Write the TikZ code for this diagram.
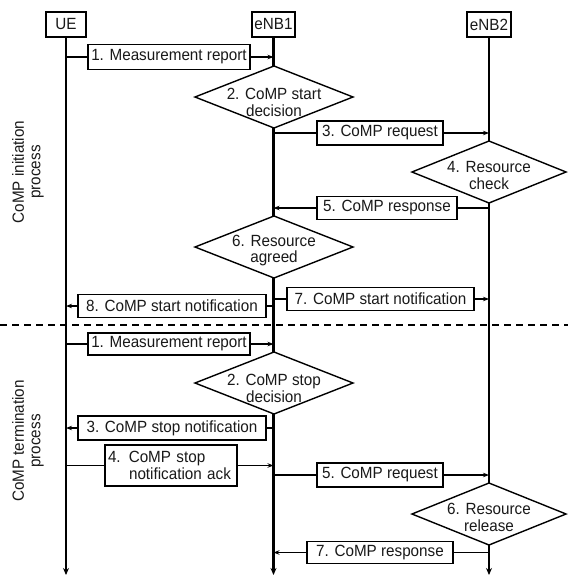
\documentclass[tikz,border=0pt]{standalone}
\usepackage{fontspec}
\setmainfont[FakeStretch=0.94]{Liberation Sans}
\usetikzlibrary{arrows.meta}
\begin{document}
\begin{tikzpicture}[x=1pt,y=-1pt,
  every node/.style={font=\fontsize{16.2}{16.5}\selectfont, text=black!90},
  head/.style={draw, line width=1.3pt, fill=white, minimum height=25pt, inner sep=0pt},
  life/.style={line width=2.2pt, -{Stealth[length=7pt,width=6pt]}},
  msg/.style={line width=1.2pt},
  msgarrow/.style={line width=1.2pt, -{Stealth[length=6pt,width=4.5pt]}},
  msgbox/.style={draw, line width=1.3pt, fill=white, inner sep=0pt, align=center},
  dia/.style={draw, line width=1.4pt, fill=white, line join=miter},
  dtext/.style={align=center, inner sep=0pt},
  side/.style={rotate=90, align=center, inner sep=0pt},
  sep/.style={line width=1.2pt, dash pattern=on 7pt off 5pt}
]
\useasboundingbox (0,0) rectangle (568,576);

% entities
\node[head, minimum width=40pt] (ue)   at (66,24.5)    {UE};
\node[head, minimum width=43pt] (enbA) at (273.5,24.5) {eNB1};
\node[head, minimum width=44pt] (enbB) at (489,24.5)   {eNB2};

% lifelines
\coordinate (end) at (0,575);
\draw[life] (ue.south)   -- (ue |- end);
\draw[life] (enbA.south) -- (enbA |- end);
\draw[life] (enbB.south) -- (enbB |- end);

% phase separator
\coordinate (sepL) at (0,325);
\coordinate (sepR) at (568,325);
\draw[sep] (sepL) -- (sepR);

% phase labels
\node[side] (initlbl) at (28,172) {CoMP initiation\\process};
\node[side] (termlbl) at (28,441) {CoMP termination\\process};

% decision diamonds
\foreach \cx/\cy/\hw in {274/97/79, 489/172/77, 274/247/79, 274/383/79, 489/514/77}{
  \draw[dia] (\cx,\cy) ++(-\hw,0) -- ++(\hw,-31) -- ++(\hw,31) -- ++(-\hw,31) -- cycle;
}
\node[dtext] (ia2) at (274,102.5) {2. CoMP start\\decision};
\node[dtext] (ia4) at (489,175.5) {4. Resource\\check};
\node[dtext] (ia6) at (274,250.5) {6. Resource\\agreed};
\node[dtext] (tb2) at (274,388.5) {2. CoMP stop\\decision};
\node[dtext] (tb6) at (489,517.5) {6. Resource\\release};

% ---- CoMP initiation process ----
\node[msgbox, minimum width=162pt, minimum height=25pt] (i1) at (169,57)    {1. Measurement report};
\draw[msg]      (i1 -| ue) -- (i1.west);
\draw[msgarrow] (i1.east) -- (i1 -| enbA);

\node[msgbox, minimum width=126pt, minimum height=24pt] (i3) at (380,133)   {3. CoMP request};
\draw[msg]      (i3 -| enbA) -- (i3.west);
\draw[msgarrow] (i3.east) -- (i3 -| enbB);

\node[msgbox, minimum width=140pt, minimum height=23pt] (i5) at (387,208)   {5. CoMP response};
\draw[msg]      (i5 -| enbB) -- (i5.east);
\draw[msgarrow] (i5.west) -- (i5 -| enbA);

\node[msgbox, minimum width=187pt, minimum height=23pt] (i7) at (380.5,299) {7. CoMP start notification};
\draw[msg]      (i7 -| enbA) -- (i7.west);
\draw[msgarrow] (i7.east) -- (i7 -| enbB);

\node[msgbox, minimum width=188pt, minimum height=23pt] (i8) at (172,306)   {8. CoMP start notification};
\draw[msg]      (i8 -| enbA) -- (i8.east);
\draw[msgarrow] (i8.west) -- (i8 -| ue);

% ---- CoMP termination process ----
\node[msgbox, minimum width=162pt, minimum height=22pt] (t1) at (169,344)   {1. Measurement report};
\draw[msg]      (t1 -| ue) -- (t1.west);
\draw[msgarrow] (t1.east) -- (t1 -| enbA);

\node[msgbox, minimum width=188pt, minimum height=24pt] (t3) at (172,428)   {3. CoMP stop notification};
\draw[msg]      (t3 -| enbA) -- (t3.east);
\draw[msgarrow] (t3.west) -- (t3 -| ue);

\node[msgbox, text width=126pt, inner xsep=3pt, minimum height=41pt, align=left] (t4) at (171,465.5)
  {4. CoMP stop\\\hspace*{1.3em}notification ack};
\draw[msg]      (t4 -| ue) -- (t4.west);
\draw[msgarrow] (t4.east) -- (t4 -| enbA);

\node[msgbox, minimum width=126pt, minimum height=24pt] (t5) at (380,475)   {5. CoMP request};
\draw[msg]      (t5 -| enbA) -- (t5.west);
\draw[msgarrow] (t5.east) -- (t5 -| enbB);

\node[msgbox, minimum width=146pt, minimum height=22pt] (t7) at (380,552.5) {7. CoMP response};
\draw[msg]      (t7 -| enbB) -- (t7.east);
\draw[msgarrow] (t7.west) -- (t7 -| enbA);
\end{tikzpicture}
\end{document}
